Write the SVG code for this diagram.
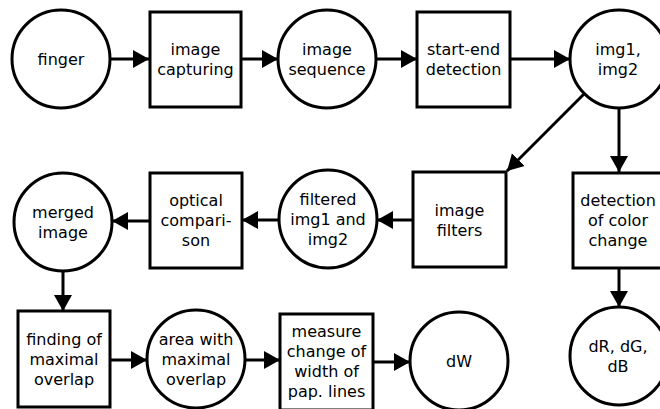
<svg xmlns="http://www.w3.org/2000/svg" width="660" height="409" viewBox="0 0 660 409">
<style>
.n{fill:#fff;stroke:#000;stroke-width:3}
.t{font-family:"DejaVu Sans",sans-serif;font-size:16px;fill:#000;text-anchor:middle}
.e{fill:none;stroke:#000;stroke-width:3}
</style>
<defs>
<marker id="ah" markerUnits="userSpaceOnUse" markerWidth="16" markerHeight="20" refX="16" refY="9" orient="auto" viewBox="0 0 16 18">
<path d="M0,0 L16,9 L0,18 Z" fill="#000"/>
</marker>
</defs>
<rect width="660" height="409" fill="#fff"/>
<g id="connectors">
<line class="e" x1="110" y1="59" x2="149" y2="59" marker-end="url(#ah)"/>
<line class="e" x1="241" y1="59" x2="278" y2="59" marker-end="url(#ah)"/>
<line class="e" x1="376" y1="59" x2="417" y2="59" marker-end="url(#ah)"/>
<line class="e" x1="510" y1="59" x2="570" y2="59" marker-end="url(#ah)"/>
<line class="e" x1="584" y1="94" x2="507" y2="171" marker-end="url(#ah)"/>
<line class="e" x1="619" y1="108" x2="619" y2="172" marker-end="url(#ah)"/>
<line class="e" x1="619" y1="268" x2="619" y2="307" marker-end="url(#ah)"/>
<line class="e" x1="413" y1="220" x2="377" y2="220" marker-end="url(#ah)"/>
<line class="e" x1="279" y1="220" x2="242" y2="220" marker-end="url(#ah)"/>
<line class="e" x1="150" y1="221" x2="112" y2="221" marker-end="url(#ah)"/>
<line class="e" x1="63" y1="271" x2="63" y2="311" marker-end="url(#ah)"/>
<line class="e" x1="110" y1="360" x2="147" y2="360" marker-end="url(#ah)"/>
<line class="e" x1="245" y1="360" x2="280" y2="360" marker-end="url(#ah)"/>
<line class="e" x1="373" y1="362" x2="410" y2="362" marker-end="url(#ah)"/>
</g>
<g id="finger"><circle class="n" cx="61" cy="59" r="49"/><text class="t" x="61" y="65">finger</text></g>
<g id="image-capturing"><rect class="n" x="150" y="12" width="91" height="95"/><text class="t" x="195.5" y="55">image</text><text class="t" x="195.5" y="75">capturing</text></g>
<g id="image-sequence"><circle class="n" cx="327" cy="59" r="49"/><text class="t" x="327" y="55">image</text><text class="t" x="327" y="75">sequence</text></g>
<g id="start-end"><rect class="n" x="417" y="12" width="93" height="95"/><text class="t" x="463.5" y="55">start-end</text><text class="t" x="463.5" y="75">detection</text></g>
<g id="img12"><circle class="n" cx="619" cy="59" r="49"/><text class="t" x="618" y="55">img1,</text><text class="t" x="618" y="75">img2</text></g>
<g id="image-filters"><rect class="n" x="413" y="172" width="93" height="95"/><text class="t" x="459.5" y="216">image</text><text class="t" x="459.5" y="236">filters</text></g>
<g id="filtered"><circle class="n" cx="328" cy="219" r="49"/><text class="t" x="328" y="205">filtered</text><text class="t" x="328" y="225">img1 and</text><text class="t" x="328" y="245">img2</text></g>
<g id="optical"><rect class="n" x="150" y="173" width="92" height="95"/><text class="t" x="196" y="206">optical</text><text class="t" x="196" y="226">compari-</text><text class="t" x="196" y="246">son</text></g>
<g id="merged"><circle class="n" cx="63" cy="222" r="49"/><text class="t" x="63" y="218">merged</text><text class="t" x="63" y="238">image</text></g>
<g id="detection-color"><rect class="n" x="573" y="173" width="92" height="95"/><text class="t" x="618" y="206">detection</text><text class="t" x="618" y="226">of color</text><text class="t" x="618" y="246">change</text></g>
<g id="finding"><rect class="n" x="18" y="311" width="92" height="96"/><text class="t" x="64" y="345">finding of</text><text class="t" x="64" y="365">maximal</text><text class="t" x="64" y="385">overlap</text></g>
<g id="area"><circle class="n" cx="196" cy="359" r="49"/><text class="t" x="196" y="345">area with</text><text class="t" x="196" y="365">maximal</text><text class="t" x="196" y="385">overlap</text></g>
<g id="measure"><rect class="n" x="280" y="314" width="93" height="96"/><text class="t" x="326.5" y="337">measure</text><text class="t" x="326.5" y="357">change of</text><text class="t" x="326.5" y="377">width of</text><text class="t" x="326.5" y="397">pap. lines</text></g>
<g id="dW"><circle class="n" cx="459" cy="361" r="49"/><text class="t" x="459" y="367">dW</text></g>
<g id="dRGB"><circle class="n" cx="619" cy="356" r="49"/><text class="t" x="618" y="352">dR, dG,</text><text class="t" x="618" y="372">dB</text></g>
</svg>
